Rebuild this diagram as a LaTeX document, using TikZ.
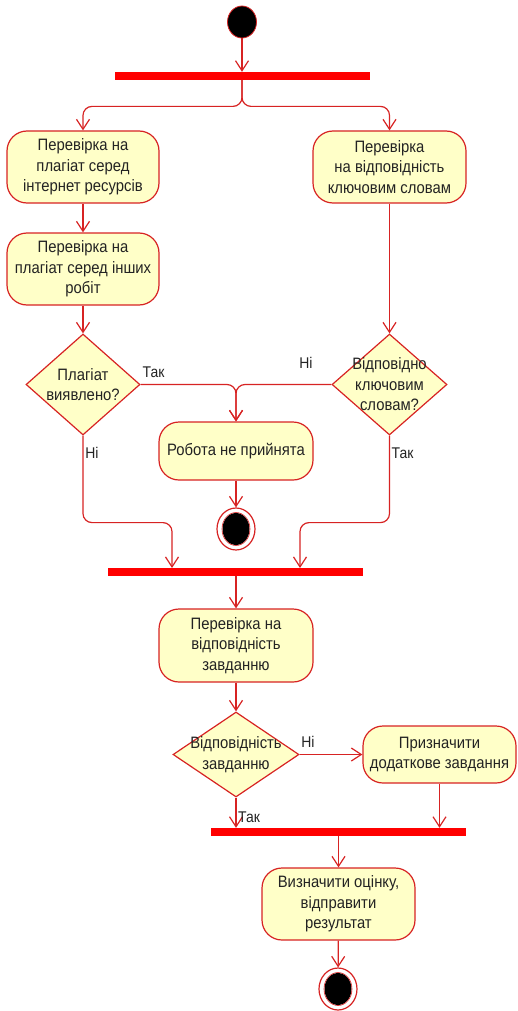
\documentclass[tikz,border=0pt]{standalone}
\usepackage{fontspec}
\setmainfont{Liberation Sans}[FakeStretch=0.9]
\usetikzlibrary{shapes.geometric,arrows.meta,calc}
\definecolor{lred}{RGB}{215,35,35}
\definecolor{bred}{RGB}{255,0,0}
\definecolor{bfill}{RGB}{255,255,200}
\definecolor{txt}{RGB}{35,35,35}
\begin{document}
\begin{tikzpicture}[x=1pt,y=-1pt,
  act/.style={draw=lred, fill=bfill, line width=1.2pt, rounded corners=20pt, align=center,
    minimum width=152pt, minimum height=72pt, text=txt, inner sep=0pt,
    font=\fontsize{16.5}{20.5}\selectfont},
  dia/.style={diamond, draw=lred, fill=bfill, line width=1.2pt, inner sep=0pt},
  diatext/.style={align=center, text=txt, inner sep=0pt, font=\fontsize{16.5}{20.5}\selectfont},
  bar/.style={fill=bred, draw=none, inner sep=0pt, minimum height=8pt, minimum width=255pt},
  arr/.style={draw=lred, line width=1.2pt, -{Straight Barb[length=10pt,width=13pt]}, rounded corners=9pt},
  lbl/.style={text=txt, inner sep=0pt, font=\fontsize{15.5}{17}\selectfont},
  startnode/.style={ellipse, fill=black, draw=lred, line width=0.8pt, minimum width=29pt, minimum height=32pt, inner sep=0pt},
  endnode/.style={ellipse, draw=lred, fill=white, line width=1.2pt, minimum width=38pt, minimum height=42pt, inner sep=0pt,
    path picture={\fill[black] (path picture bounding box.center) ellipse [x radius=13.5pt, y radius=16pt];
                  \draw[lred, line width=0.6pt] (path picture bounding box.center) ellipse [x radius=14pt, y radius=16.5pt];}}]
\useasboundingbox (0,0) rectangle (517,1011);

\node[startnode] (start) at (242,22) {};
\node[bar] (bar1) at (242.5,76) {};
\node[act] (a1) at (83,167) {Перевірка на\\плагіат серед\\інтернет ресурсів};
\node[act, minimum width=153pt] (b1) at (389.5,167) {Перевірка\\на відповідність\\ключовим словам};
\node[act] (a2) at (83,269) {Перевірка на\\плагіат серед інших\\робіт};
\node[dia, minimum width=114pt, minimum height=101pt] (d1) at (83,384.5) {};
\node[diatext] (d1t) at (d1.center) {Плагіат\\виявлено?};
\node[dia, minimum width=115pt, minimum height=101pt] (d2) at (389.5,384.5) {};
\node[diatext] (d2t) at (d2.center) {Відповідно\\ключовим\\словам?};
\node[act, minimum width=154pt, minimum height=58pt] (c) at (236,451) {Робота не прийнята};
\node[endnode] (end1) at (236,529) {};
\node[bar] (bar2) at (235.5,572) {};
\coordinate (j1) at (172,568);
\coordinate (j2) at (300,568);
\node[act, minimum width=154pt, minimum height=73pt] (e) at (236,645.5) {Перевірка на\\відповідність\\завданню};
\node[dia, minimum width=126pt, minimum height=85pt] (d3) at (236,754.5) {};
\node[diatext] (d3t) at (d3.center) {Відповідність\\завданню};
\node[act, minimum width=153pt, minimum height=57pt] (f) at (439.5,754.5) {Призначити\\додаткове завдання};
\node[bar] (bar3) at (338.5,832) {};
\node[act, minimum width=153pt] (g) at (338.5,904) {Визначити оцінку,\\відправити\\результат};
\node[endnode] (end2) at (338,989) {};

\draw[arr] (start) -- (bar1.north -| start);
\draw[arr] (bar1.south -| start) |- ([yshift=24pt]a1.north) -- (a1.north);
\draw[arr] (bar1.south -| start) |- ([yshift=24pt]b1.north) -- (b1.north);
\draw[arr] (a1) -- (a2);
\draw[arr] (a2) -- (d1);
\draw[arr] (b1) -- (d2);
\draw[arr] (d1.east) -| (c.north);
\draw[arr] (d2.west) -| (c.north);
\draw[arr] (c) -- (end1);
\draw[arr] (d1.south) -- ++(0,87) -| (j1);
\draw[arr] (d2.south) -- ++(0,87) -| (j2);
\draw[arr] (bar2.south -| e.north) -- (e.north);
\draw[arr] (e) -- (d3);
\draw[arr] (d3.east) -- (d3.east -| f.west);
\draw[arr] (d3.south) -- (d3.south |- bar3.north);
\draw[arr] (f.south) -- (f.south |- bar3.north);
\draw[arr] (bar3.south -| g.north) -- (g.north);
\draw[arr] (g) -- (end2);

\node[lbl] (l1) at (153.5,372) {Так};
\node[lbl] (l2) at (306,363) {Ні};
\node[lbl] (l3) at (92,453) {Ні};
\node[lbl] (l4) at (402.5,453) {Так};
\node[lbl] (l5) at (308,742) {Ні};
\node[lbl] (l6) at (249,817) {Так};
\end{tikzpicture}
\end{document}
